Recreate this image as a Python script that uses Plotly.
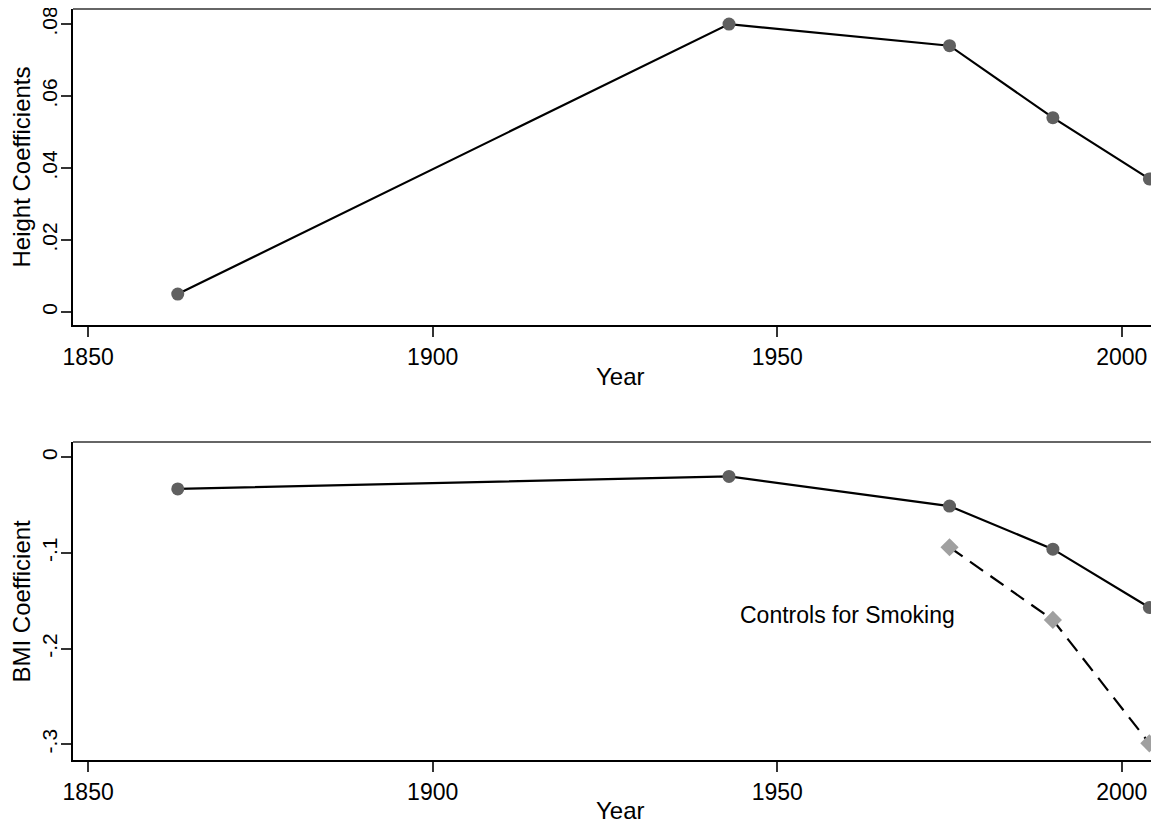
import plotly.graph_objects as go
from plotly.subplots import make_subplots

years = [1863, 1943, 1975, 1990, 2004]
height_coef = [0.005, 0.080, 0.074, 0.054, 0.037]
bmi_coef = [-0.033, -0.020, -0.051, -0.096, -0.157]
smoke_years = [1975, 1990, 2004]
bmi_smoke_coef = [-0.094, -0.170, -0.299]

x_ticks = [1850, 1900, 1950, 2000]
x_ticktext = ["1850", "1900", "1950", "2000"]
h_ticks = [0, 0.02, 0.04, 0.06, 0.08]
h_ticktext = ["0", ".02", ".04", ".06", ".08"]
b_ticks = [0, -0.1, -0.2, -0.3]
b_ticktext = ["0", "-.1", "-.2", "-.3"]

FONT = "Liberation Sans, Arial, sans-serif"
OFF = 8  # default page body margin
W, H = 1159 - OFF, 823 - OFF
ml, mr, mt, mb = 73 - OFF, 0, 9 - OFF, 63
ph = H - mt - mb
PLOT_BOTTOM = OFF + mt + ph  # page pixel of plot bottom
top_dom = [(PLOT_BOTTOM - 325) / ph, 1.0]
bot_dom = [0.0, (PLOT_BOTTOM - 442) / ph]

fig = make_subplots(rows=2, cols=1)

fig.add_trace(go.Scatter(x=years, y=height_coef, mode="lines+markers",
                         line=dict(color="black", width=2.2),
                         marker=dict(symbol="circle", size=13, color="#606060"),
                         showlegend=False), row=1, col=1)
fig.add_trace(go.Scatter(x=years, y=bmi_coef, mode="lines+markers",
                         line=dict(color="black", width=2.2),
                         marker=dict(symbol="circle", size=13, color="#606060"),
                         showlegend=False), row=2, col=1)
fig.add_trace(go.Scatter(x=smoke_years, y=bmi_smoke_coef, mode="lines+markers",
                         line=dict(color="black", width=2.2, dash="16px,9px"),
                         marker=dict(symbol="diamond", size=14, color="#a0a0a0"),
                         showlegend=False), row=2, col=1)

xr = [1847.8, 2005.4]
axis_common = dict(showgrid=False, zeroline=False, showline=True, linecolor="black",
                   linewidth=2, ticks="outside", ticklen=10, tickwidth=1.5,
                   tickcolor="#333333", ticklabeloverflow="allow", automargin=False)

fig.update_xaxes(range=xr, tickvals=x_ticks, ticktext=x_ticktext,
                 tickfont=dict(family=FONT, size=23, color="black"), **axis_common)
fig.update_yaxes(tickfont=dict(family=FONT, size=21, color="black"), **axis_common)
fig.update_yaxes(range=[-0.0036, 0.0842], tickvals=h_ticks, ticktext=h_ticktext,
                 tickangle=-90, domain=top_dom, ticklabelstandoff=-4, row=1, col=1)
fig.update_yaxes(range=[-0.3164, 0.016], tickvals=b_ticks, ticktext=b_ticktext,
                 tickangle=-90, domain=bot_dom, ticklabelstandoff=-4, row=2, col=1)

def py(pix):
    return (PLOT_BOTTOM - pix) / ph

def px(pix):
    return (pix - OFF - ml) / (W - ml - mr)

ann_font = dict(family=FONT, size=24, color="black")
annotations = [
    dict(text="Year", x=px(620.7), y=py(376.7), xref="paper", yref="paper",
         showarrow=False, font=ann_font, xanchor="center", yanchor="middle"),
    dict(text="Year", x=px(620.7), y=py(810), xref="paper", yref="paper",
         showarrow=False, font=ann_font, xanchor="center", yanchor="middle"),
    dict(text="Height Coefficients", x=px(20.5), y=py(167), xref="paper", yref="paper",
         showarrow=False, font=ann_font, textangle=-90, xanchor="center", yanchor="middle"),
    dict(text="BMI Coefficient", x=px(20.5), y=py(601), xref="paper", yref="paper",
         showarrow=False, font=ann_font, textangle=-90, xanchor="center", yanchor="middle"),
    dict(text="Controls for Smoking", x=1960.2, y=-0.1648, xref="x2", yref="y2",
         showarrow=False, font=dict(family=FONT, size=23, color="black"),
         xanchor="center", yanchor="middle"),
]

shapes = [
    dict(type="line", xref="paper", yref="paper", x0=0, x1=1, y0=top_dom[1], y1=top_dom[1],
         line=dict(color="#333333", width=1.5)),
    dict(type="line", xref="paper", yref="paper", x0=0, x1=1, y0=bot_dom[1], y1=bot_dom[1],
         line=dict(color="#333333", width=1.5)),
]

fig.update_layout(width=W, height=H, margin=dict(l=ml, r=mr, t=mt, b=mb),
                  paper_bgcolor="white", plot_bgcolor="white",
                  annotations=annotations, shapes=shapes,
                  font=dict(family=FONT, color="black"))

fig.write_html("out.html")
